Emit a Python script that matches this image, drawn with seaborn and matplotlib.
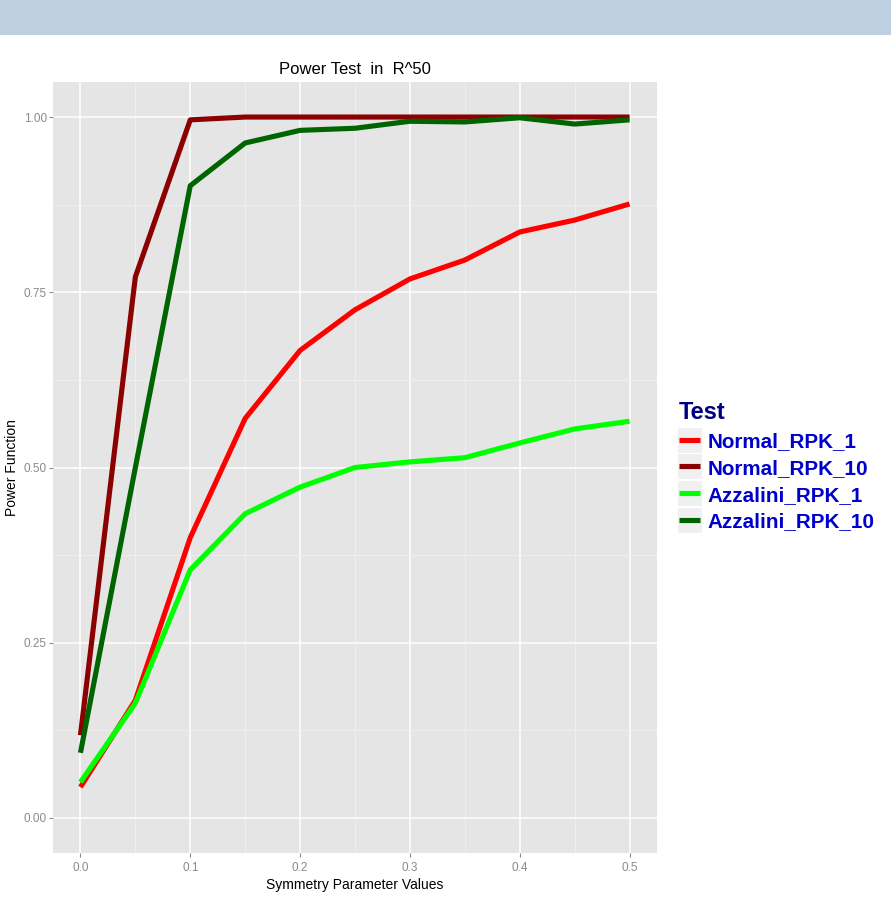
import numpy as np
import pandas as pd
import matplotlib
matplotlib.use("Agg")
import matplotlib.pyplot as plt
import seaborn as sns
from matplotlib.lines import Line2D
from matplotlib.patches import Rectangle

# ---- data ----
x_vals = [0.0, 0.05, 0.1, 0.15, 0.2, 0.25, 0.3, 0.35, 0.4, 0.45, 0.5]
normal_rpk_1 = [0.044, 0.168, 0.400, 0.570, 0.667, 0.725, 0.769, 0.796, 0.836, 0.853, 0.876]
normal_rpk_10 = [0.118, 0.772, 0.996, 1.000, 1.000, 1.000, 1.000, 1.000, 1.000, 1.000, 1.000]
azzalini_rpk_1 = [0.051, 0.164, 0.354, 0.434, 0.472, 0.500, 0.508, 0.514, 0.535, 0.555, 0.566]
azzalini_rpk_10 = [0.093, 0.500, 0.902, 0.963, 0.981, 0.984, 0.994, 0.993, 0.999, 0.990, 0.996]
series_names = ["Normal_RPK_1", "Normal_RPK_10", "Azzalini_RPK_1", "Azzalini_RPK_10"]
series_colors = ["#FF0000", "#8B0000", "#00FF00", "#006400"]
x_ticks = [0.0, 0.1, 0.2, 0.3, 0.4, 0.5]
x_ticklabels = ["0.0", "0.1", "0.2", "0.3", "0.4", "0.5"]
y_ticks = [0.0, 0.25, 0.5, 0.75, 1.0]
y_ticklabels = ["0.00", "0.25", "0.50", "0.75", "1.00"]

df = pd.DataFrame({
    "x": x_vals * 4,
    "y": normal_rpk_1 + normal_rpk_10 + azzalini_rpk_1 + azzalini_rpk_10,
    "Test": sum([[n] * len(x_vals) for n in series_names], []),
})
palette = dict(zip(series_names, series_colors))

plt.rcParams["font.family"] = ["Liberation Sans", "DejaVu Sans"]

W, H = 891, 897
fig = plt.figure(figsize=(W / 100, H / 100), dpi=100)
fig.patch.set_facecolor("white")

# header band
fig.add_artist(Rectangle((0, 1 - 35 / H), 1, 35 / H, transform=fig.transFigure,
                         facecolor="#BDCFE0", edgecolor="none", zorder=0))

ax = fig.add_axes([53 / W, 1 - 853 / H, (657 - 53) / W, (853 - 82) / H])
ax.set_facecolor("#E5E5E5")
for s in ax.spines.values():
    s.set_visible(False)

sns.lineplot(data=df, x="x", y="y", hue="Test", palette=palette,
             hue_order=series_names, linewidth=3.7, ax=ax, legend=False,
             zorder=3)
for ln in ax.lines:
    ln.set_solid_capstyle("butt")
    ln.set_solid_joinstyle("round")

ax.set_xlim(-0.025, 0.525)
ax.set_ylim(-0.05, 1.05)

ax.set_xticks(x_ticks)
ax.set_xticklabels(x_ticklabels)
ax.set_yticks(y_ticks)
ax.set_yticklabels(y_ticklabels)
ax.set_xticks([0.05, 0.15, 0.25, 0.35, 0.45], minor=True)
ax.set_yticks([0.125, 0.375, 0.625, 0.875], minor=True)
ax.grid(which="major", color="white", linewidth=1.1, zorder=1)
ax.grid(which="minor", color="#F0F0F0", linewidth=0.6, zorder=1)
ax.set_axisbelow(True)
ax.tick_params(which="major", length=3, width=0.8, color="#8A8A8A",
               labelcolor="#8A8A8A", labelsize=8.5)
ax.tick_params(axis="y", which="major", pad=1.5)
ax.tick_params(axis="x", which="major", pad=3.5)
ax.tick_params(which="minor", length=0)

ax.set_xlabel("Symmetry Parameter Values", fontsize=10, color="black", labelpad=3)
ax.set_ylabel("Power Function", fontsize=10, color="black", labelpad=3)
ax.set_title("Power Test  in  R^50", fontsize=12, color="black", pad=6)

handles = [Line2D([0], [0], color=c, linewidth=3.7, solid_capstyle="butt")
           for c in series_colors]
leg = fig.legend(handles, series_names, title="Test",
                 loc="upper left", bbox_to_anchor=(679 / W, 1 - 401 / H),
                 frameon=False, handlelength=1.0, handletextpad=0.38,
                 labelspacing=0.38, borderaxespad=0, borderpad=0,
                 prop={"weight": "bold", "size": 14.9})
leg.get_title().set_fontsize(17)
leg.get_title().set_fontweight("bold")
leg.get_title().set_color("#00007F")
leg._legend_box.align = "left"
for t in leg.get_texts():
    t.set_color("#0000CD")

# grey legend key boxes behind the key lines
fig.canvas.draw()
inv = fig.transFigure.inverted()
for h in leg.legend_handles:
    bb = h.get_window_extent(fig.canvas.get_renderer())
    cx = (bb.x0 + bb.x1) / 2
    cy = (bb.y0 + bb.y1) / 2
    (fx0, fy0) = inv.transform((cx - 12.5, cy - 13))
    (fx1, fy1) = inv.transform((cx + 12.5, cy + 13))
    fig.add_artist(Rectangle((fx0, fy0), fx1 - fx0, fy1 - fy0,
                             transform=fig.transFigure, facecolor="#F0F0F0",
                             edgecolor="white", linewidth=0.8, zorder=0.5))
leg.set_zorder(2)

fig.savefig("out.png", dpi=100, facecolor="white")
